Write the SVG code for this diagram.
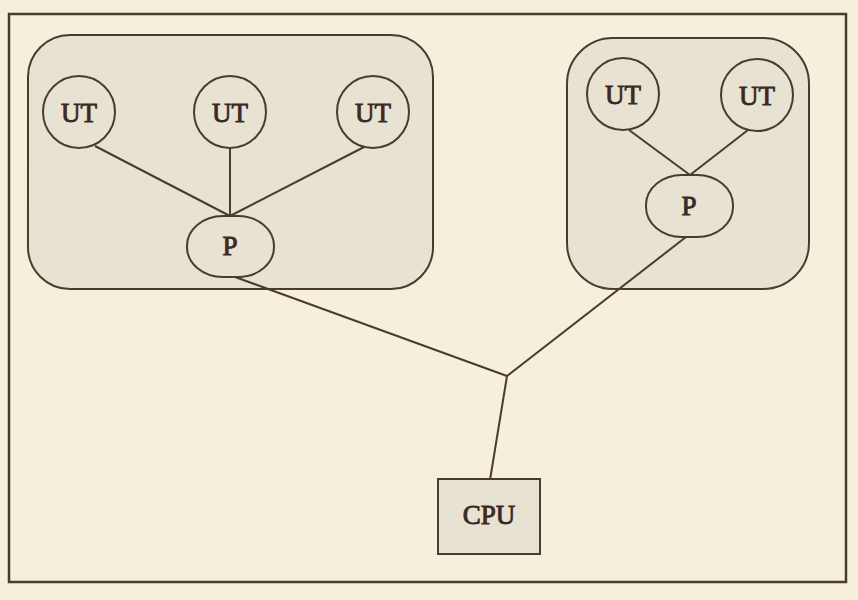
<svg xmlns="http://www.w3.org/2000/svg" width="858" height="600" viewBox="0 0 858 600">
<style>
.ln{stroke:#4a3a30;stroke-width:2;fill:none}
.grp{fill:#e8e2d3;stroke:#4a3a30;stroke-width:2}
.nd{fill:#e8e2d3;stroke:#4a3a30;stroke-width:2}
.tx{font-family:"Liberation Serif","Times New Roman",serif;font-size:27px;fill:#3a2a22;text-anchor:middle;stroke:#3a2a22;stroke-width:0.9}
</style>
<rect x="0" y="0" width="858" height="600" fill="#f5efdc"/>
<rect x="9" y="14" width="837" height="568" fill="none" stroke="#4a3a30" stroke-width="2.5"/>
<g id="group-left"><rect class="grp" x="28" y="35" width="405" height="254" rx="42" ry="42"/></g>
<g id="group-right"><rect class="grp" x="567" y="38" width="242" height="251" rx="46" ry="46"/></g>
<g id="connectors">
<line class="ln" x1="95" y1="146" x2="230" y2="216"/>
<line class="ln" x1="230" y1="148" x2="230" y2="216"/>
<line class="ln" x1="366" y1="146" x2="230" y2="216"/>
<line class="ln" x1="235" y1="277" x2="507" y2="376"/>
<line class="ln" x1="629" y1="130" x2="690" y2="175"/>
<line class="ln" x1="748" y1="130" x2="690" y2="175"/>
<line class="ln" x1="686" y1="237" x2="507" y2="376"/>
<line class="ln" x1="507" y1="376" x2="490" y2="480"/>
</g>
<g id="ut1"><circle class="nd" cx="79" cy="112" r="36"/><text class="tx" x="79" y="122">UT</text></g>
<g id="ut2"><circle class="nd" cx="230" cy="112" r="36"/><text class="tx" x="230" y="122">UT</text></g>
<g id="ut3"><circle class="nd" cx="373" cy="112" r="36"/><text class="tx" x="373" y="122">UT</text></g>
<g id="p1"><rect class="nd" x="187" y="216" width="87" height="61" rx="36" ry="30"/><text class="tx" x="230" y="255">P</text></g>
<g id="ut4"><circle class="nd" cx="623" cy="94" r="36"/><text class="tx" x="623" y="104">UT</text></g>
<g id="ut5"><circle class="nd" cx="757" cy="95" r="36"/><text class="tx" x="757" y="105">UT</text></g>
<g id="p2"><rect class="nd" x="646" y="175" width="87" height="62" rx="36" ry="30"/><text class="tx" x="689" y="215">P</text></g>
<g id="cpu"><rect class="nd" x="438" y="479" width="102" height="75"/><text class="tx" x="489" y="524">CPU</text></g>
</svg>
